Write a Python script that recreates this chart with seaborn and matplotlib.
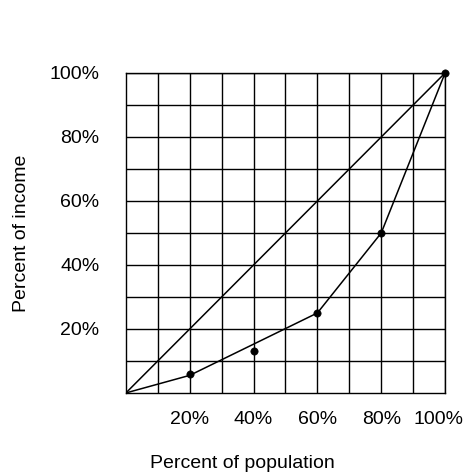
import matplotlib
matplotlib.use("Agg")
import matplotlib.pyplot as plt
import matplotlib.transforms as mtransforms
import seaborn as sns

# Lorenz curve data (percent of population vs percent of income)
curve_population = [0, 20, 60, 80, 100]
curve_income = [0, 5.5, 25, 50, 100]

point_population = [20, 40, 60, 80, 100]
point_income = [6, 13, 25, 50, 100]

equality_line = [0, 100]

tick_values = [20, 40, 60, 80, 100]
tick_labels = ["20%", "40%", "60%", "80%", "100%"]

sns.set_style("white")
plt.rcParams["font.family"] = ["Liberation Sans", "DejaVu Sans"]

fig = plt.figure(figsize=(4.68, 4.74), dpi=100)
ax = fig.add_axes([0.269, 0.171, 0.682, 0.675])

sns.lineplot(x=equality_line, y=equality_line, color="black", linewidth=1.1, ax=ax)
sns.lineplot(x=curve_population, y=curve_income, color="black", linewidth=1.1, ax=ax)
sns.scatterplot(x=point_population, y=point_income, color="black", s=28, ax=ax,
                edgecolor="black", zorder=5, clip_on=False)

ax.set_xlim(0, 100)
ax.set_ylim(0, 100)
ax.set_xticks(tick_values)
ax.set_xticklabels(tick_labels)
ax.set_yticks(tick_values)
ax.set_yticklabels(tick_labels)
ax.set_xticks(range(10, 100, 20), minor=True)
ax.set_yticks(range(10, 100, 20), minor=True)
ax.grid(True, which="both", color="black", linewidth=1.0)
ax.set_axisbelow(True)
ax.tick_params(axis="both", which="both", length=0, labelsize=14, labelcolor="black")
ax.tick_params(axis="y", pad=19)
ax.tick_params(axis="x", pad=13)
for s in ax.spines.values():
    s.set_color("black")
    s.set_linewidth(1.0)

# nudge the last x label left so it stays inside the figure
last = ax.get_xticklabels()[-1]
last.set_transform(last.get_transform() + mtransforms.ScaledTranslation(-7 / 100, 0, fig.dpi_scale_trans))

ax.set_xlabel("Percent of population", fontsize=14, color="black")
ax.set_ylabel("Percent of income", fontsize=14, color="black")
ax.xaxis.set_label_coords(0.365, -0.195)
ax.yaxis.set_label_coords(-0.30, 0.5)

fig.savefig("out.png", dpi=100)
